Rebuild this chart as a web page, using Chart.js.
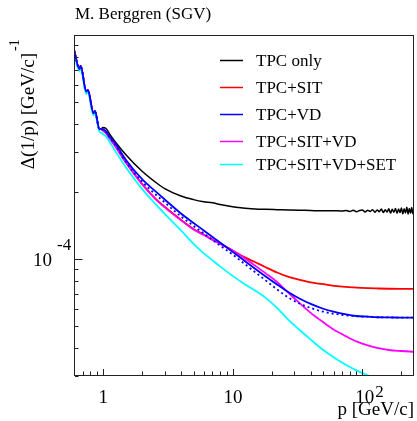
<!DOCTYPE html>
<html><head><meta charset="utf-8">
<script src="https://cdn.jsdelivr.net/npm/chart.js@4.4.0/dist/chart.umd.min.js"></script>
<style>html,body{margin:0;padding:0;background:#fff;}#wrap{width:417px;height:421px;}</style>
</head><body>
<div id="wrap"><canvas id="c" width="417" height="421"></canvas></div>
<script>
// momentum grid p [GeV/c]
const momentum = [0.6, 0.66, 0.675, 0.745, 0.767, 0.848, 0.868, 0.943, 0.97, 1.0, 1.05, 1.13, 1.25, 1.5, 2, 2.5, 3, 4, 5, 6, 7, 8, 10, 12, 15, 18, 22, 27, 33, 40, 50, 60, 75, 90, 110, 130, 160, 200, 250];

// TPC only (own grid, noisy tail)
const tpcOnlyP = [0.6, 0.66, 0.675, 0.745, 0.767, 0.848, 0.868, 0.943, 0.97, 1.0, 1.05, 1.13, 1.25, 1.5, 2, 2.5, 3, 4, 5, 6, 7, 8, 10, 12, 15, 18, 22, 27, 33, 40, 50, 60,
  65, 70, 75, 80, 85, 90, 95, 100, 105, 110, 115, 120, 125, 130, 135, 140, 145, 150, 155, 160, 165, 170, 175, 180, 185, 190, 195, 200, 205, 210, 215, 220, 225, 230, 235, 240, 245, 250];
const tpcOnly = [8.6e-4, 7.05e-4, 7.28e-4, 5.59e-4, 5.68e-4, 4.48e-4, 4.58e-4, 3.79e-4, 3.80e-4, 3.86e-4, 3.84e-4, 3.61e-4, 3.33e-4, 2.93e-4, 2.47e-4, 2.22e-4, 2.06e-4, 1.91e-4, 1.84e-4, 1.80e-4, 1.78e-4, 1.75e-4, 1.71e-4, 1.69e-4, 1.67e-4, 1.665e-4, 1.66e-4, 1.655e-4, 1.65e-4, 1.645e-4, 1.64e-4, 1.64e-4,
  1.64e-4, 1.635e-4, 1.645e-4, 1.63e-4, 1.65e-4, 1.625e-4, 1.645e-4, 1.655e-4, 1.62e-4, 1.65e-4, 1.63e-4, 1.66e-4, 1.615e-4, 1.655e-4, 1.625e-4, 1.67e-4, 1.61e-4, 1.66e-4, 1.62e-4, 1.675e-4, 1.60e-4, 1.665e-4, 1.615e-4, 1.68e-4, 1.60e-4, 1.67e-4, 1.61e-4, 1.69e-4, 1.59e-4, 1.675e-4, 1.605e-4, 1.70e-4, 1.585e-4, 1.68e-4, 1.60e-4, 1.695e-4, 1.59e-4, 1.66e-4];

const tpcSit = [8.6e-4, 7.05e-4, 7.28e-4, 5.59e-4, 5.68e-4, 4.48e-4, 4.58e-4, 3.79e-4, 3.80e-4, 3.75e-4, 3.67e-4, 3.46e-4, 3.19e-4, 2.71e-4, 2.17e-4, 1.88e-4, 1.71e-4, 1.495e-4, 1.36e-4, 1.285e-4, 1.22e-4, 1.175e-4, 1.09e-4, 1.026e-4, 0.966e-4, 0.918e-4, 0.870e-4, 0.831e-4, 0.806e-4, 0.785e-4, 0.771e-4, 0.758e-4, 0.750e-4, 0.744e-4, 0.740e-4, 0.738e-4, 0.736e-4, 0.735e-4, 0.735e-4];

const tpcVd = [8.6e-4, 7.05e-4, 7.28e-4, 5.59e-4, 5.68e-4, 4.48e-4, 4.58e-4, 3.79e-4, 3.80e-4, 3.80e-4, 3.73e-4, 3.52e-4, 3.28e-4, 2.78e-4, 2.276e-4, 2.022e-4, 1.843e-4, 1.596e-4, 1.448e-4, 1.340e-4, 1.254e-4, 1.184e-4, 1.075e-4, 0.994e-4, 0.902e-4, 0.835e-4, 0.769e-4, 0.710e-4, 0.664e-4, 0.630e-4, 0.599e-4, 0.581e-4, 0.565e-4, 0.556e-4, 0.552e-4, 0.549e-4, 0.548e-4, 0.547e-4, 0.547e-4];

// dotted blue companion curve (not in legend)
const tpcVdDotted = [8.6e-4, 7.05e-4, 7.28e-4, 5.59e-4, 5.68e-4, 4.48e-4, 4.58e-4, 3.79e-4, 3.80e-4, 3.78e-4, 3.70e-4, 3.49e-4, 3.23e-4, 2.72e-4, 2.218e-4, 1.961e-4, 1.788e-4, 1.548e-4, 1.404e-4, 1.300e-4, 1.216e-4, 1.148e-4, 1.047e-4, 0.964e-4, 0.870e-4, 0.802e-4, 0.731e-4, 0.671e-4, 0.631e-4, 0.604e-4, 0.581e-4, 0.569e-4, 0.560e-4, 0.554e-4, 0.552e-4, 0.549e-4, 0.548e-4, 0.547e-4, 0.547e-4];

const tpcSitVd = [8.6e-4, 7.05e-4, 7.28e-4, 5.59e-4, 5.68e-4, 4.48e-4, 4.58e-4, 3.79e-4, 3.80e-4, 3.74e-4, 3.66e-4, 3.45e-4, 3.18e-4, 2.70e-4, 2.16e-4, 1.87e-4, 1.70e-4, 1.49e-4, 1.354e-4, 1.28e-4, 1.216e-4, 1.167e-4, 1.091e-4, 1.021e-4, 0.931e-4, 0.862e-4, 0.789e-4, 0.705e-4, 0.633e-4, 0.574e-4, 0.521e-4, 0.484e-4, 0.451e-4, 0.428e-4, 0.411e-4, 0.401e-4, 0.392e-4, 0.388e-4, 0.385e-4];

const tpcSitVdSet = [8.4e-4, 6.9e-4, 7.1e-4, 5.45e-4, 5.55e-4, 4.38e-4, 4.47e-4, 3.70e-4, 3.66e-4, 3.61e-4, 3.54e-4, 3.33e-4, 3.03e-4, 2.575e-4, 2.06e-4, 1.778e-4, 1.588e-4, 1.340e-4, 1.167e-4, 1.058e-4, 0.985e-4, 0.926e-4, 0.840e-4, 0.781e-4, 0.720e-4, 0.670e-4, 0.604e-4, 0.534e-4, 0.480e-4, 0.436e-4, 0.392e-4, 0.364e-4, 0.336e-4, 0.318e-4, 0.302e-4, 0.291e-4, 0.282e-4, 0.277e-4, 0.273e-4];

const seriesLabels = ["TPC only", "TPC+SIT", "TPC+VD", "TPC+SIT+VD", "TPC+SIT+VD+SET"];
const seriesColors = ["#000000", "#ff0000", "#0000ff", "#ff00ff", "#00ffff"];

const xTickValues = [1, 10, 100];
const xTickLabels = [["1", ""], ["10", ""], ["10", "2"]];
const yTickValues = [1e-4];
const yTickLabels = [["10", "-4"]];
const xRange = [0.6, 250];
const yRange = [3e-5, 1e-3];

const titleText = "M. Berggren (SGV)";
const xTitle = "p [GeV/c]";
const yTitle = ["\u0394(1/p) [GeV/c]", "-1"];

function pts(xs, ys) { return xs.map((x, i) => ({x: x, y: ys[i]})); }

const SERIF = "'Liberation Serif', 'Times New Roman', serif";

const decor = {
  id: 'decor',
  afterDraw(chart) {
    const ctx = chart.ctx, a = chart.chartArea, xs = chart.scales.x, ys = chart.scales.y;
    ctx.save();
    // frame
    ctx.strokeStyle = '#222'; ctx.lineWidth = 1;
    ctx.strokeRect(a.left + 0.5, a.top + 0.5, a.right - a.left - 1, a.bottom - a.top - 1);
    // ticks (inward)
    ctx.beginPath();
    for (const d of [0.1, 1, 10, 100]) {
      for (let m = 1; m <= 9; m++) {
        const v = m * d;
        if (v <= xRange[0] || v >= xRange[1]) continue;
        const px = Math.round(xs.getPixelForValue(v)) + 0.5;
        const len = m === 1 ? 6 : 3.5;
        ctx.moveTo(px, a.bottom - 1); ctx.lineTo(px, a.bottom - 1 - len);
      }
    }
    for (const d of [1e-5, 1e-4, 1e-3]) {
      for (let m = 1; m <= 9; m++) {
        const v = m * d;
        if (v <= yRange[0] * 0.999 || v >= yRange[1] * 0.999) continue;
        const py = Math.round(ys.getPixelForValue(v)) + 0.5;
        const len = m === 1 ? 7.5 : 3.5;
        ctx.moveTo(a.left + 1, py); ctx.lineTo(a.left + 1 + len, py);
      }
    }
    ctx.stroke();
    ctx.fillStyle = '#000';
    // x tick labels
    xTickValues.forEach((v, i) => {
      const px = xs.getPixelForValue(v);
      const [man, ex] = xTickLabels[i];
      ctx.font = '19px ' + SERIF;
      ctx.textAlign = 'center'; ctx.textBaseline = 'alphabetic';
      const cx = ex ? px + 2.5 : px + 0.5;
      ctx.fillText(man, cx, 403);
      if (ex) {
        const w = ctx.measureText(man).width;
        ctx.font = '17px ' + SERIF; ctx.textAlign = 'left';
        ctx.fillText(ex, cx + w / 2 + 1, 397);
      }
    });
    // y tick labels
    yTickValues.forEach((v, i) => {
      const py = ys.getPixelForValue(v);
      const [man, ex] = yTickLabels[i];
      ctx.font = '19px ' + SERIF; ctx.textAlign = 'right'; ctx.textBaseline = 'alphabetic';
      ctx.fillText(man, 52, py + 7);
      ctx.font = '17px ' + SERIF; ctx.textAlign = 'left';
      ctx.fillText(ex, 57, py - 9);
    });
    // title
    ctx.font = '17px ' + SERIF; ctx.textAlign = 'left';
    ctx.fillText(titleText, 75, 18.5);
    // x title
    ctx.font = '19px ' + SERIF; ctx.textAlign = 'right';
    ctx.fillText(xTitle, 414, 415);
    // y title
    ctx.save();
    ctx.translate(34, 53);
    ctx.rotate(-Math.PI / 2);
    ctx.font = '19px ' + SERIF; ctx.textAlign = 'right';
    ctx.fillText(yTitle[0], 0, 0);
    ctx.font = '14px ' + SERIF; ctx.textAlign = 'left';
    ctx.fillText(yTitle[1], 2, -15);
    ctx.restore();
    // legend
    const rows = [60, 87, 114, 141, 164];
    ctx.font = '17px ' + SERIF; ctx.textAlign = 'left';
    ctx.lineWidth = 1.5;
    seriesLabels.forEach((lab, i) => {
      const y = rows[i];
      ctx.strokeStyle = seriesColors[i];
      ctx.beginPath(); ctx.moveTo(220, y + 0.5); ctx.lineTo(243, y + 0.5); ctx.stroke();
      ctx.fillStyle = '#000';
      ctx.fillText(lab, 256, y + 6);
    });
    ctx.restore();
  }
};

const common = {pointRadius: 0, cubicInterpolationMode: 'monotone', fill: false, clip: 0};
new Chart(document.getElementById('c'), {
  type: 'line',
  data: {
    datasets: [
      Object.assign({label: seriesLabels[0], data: pts(tpcOnlyP, tpcOnly), borderColor: seriesColors[0], borderWidth: 1.5, order: 6}, common),
      Object.assign({label: seriesLabels[1], data: pts(momentum, tpcSit), borderColor: seriesColors[1], borderWidth: 1.8, order: 5}, common),
      Object.assign({label: seriesLabels[3], data: pts(momentum, tpcSitVd), borderColor: seriesColors[3], borderWidth: 1.8, order: 4}, common),
      Object.assign({label: seriesLabels[4], data: pts(momentum, tpcSitVdSet), borderColor: seriesColors[4], borderWidth: 1.8, order: 3}, common),
      Object.assign({label: 'TPC+VD (alt)', data: pts(momentum, tpcVdDotted), borderColor: seriesColors[2], borderWidth: 1.8, borderDash: [2, 3], order: 2}, common),
      Object.assign({label: seriesLabels[2], data: pts(momentum, tpcVd), borderColor: seriesColors[2], borderWidth: 1.8, order: 1}, common)
    ]
  },
  options: {
    responsive: false, animation: false, devicePixelRatio: 1,
    layout: {padding: {left: 74, right: 3, top: 35, bottom: 45}},
    plugins: {legend: {display: false}, tooltip: {enabled: false}, title: {display: false}},
    scales: {
      x: {type: 'logarithmic', min: xRange[0], max: xRange[1], display: false},
      y: {type: 'logarithmic', min: yRange[0], max: yRange[1], display: false}
    }
  },
  plugins: [decor]
});
</script>
</body></html>
